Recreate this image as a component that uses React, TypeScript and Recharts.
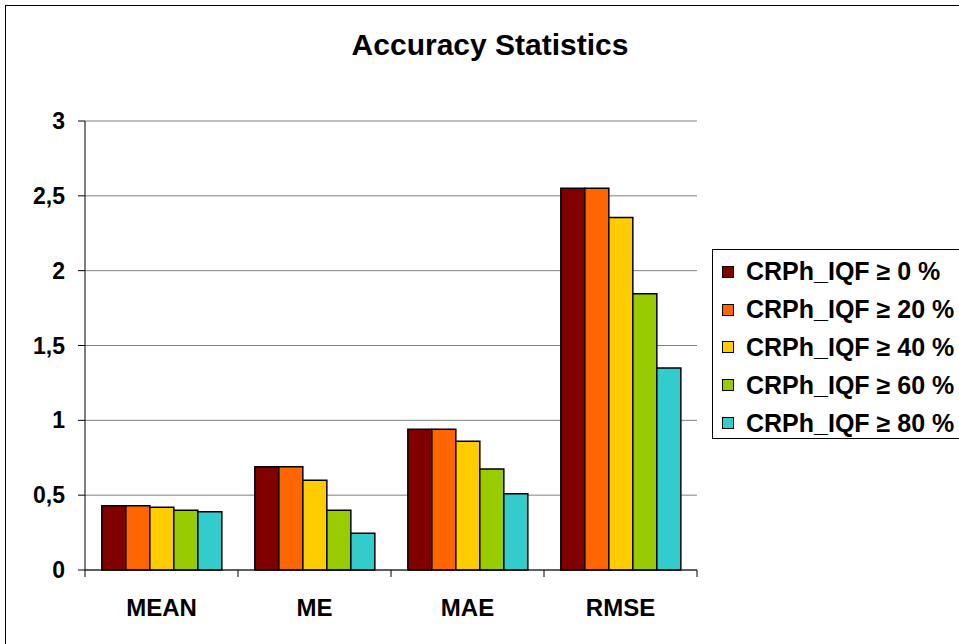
import React from 'react';
import { BarChart, Bar, XAxis, YAxis, CartesianGrid } from 'recharts';

const categories = ['MEAN', 'ME', 'MAE', 'RMSE'];
const iqf0 = [0.43, 0.69, 0.94, 2.55];
const iqf20 = [0.43, 0.69, 0.94, 2.55];
const iqf40 = [0.42, 0.6, 0.86, 2.355];
const iqf60 = [0.4, 0.4, 0.675, 1.846];
const iqf80 = [0.39, 0.245, 0.51, 1.35];
const yTicks = [0, 0.5, 1, 1.5, 2, 2.5, 3];

const seriesNames = ['CRPh_IQF ≥ 0 %', 'CRPh_IQF ≥ 20 %', 'CRPh_IQF ≥ 40 %', 'CRPh_IQF ≥ 60 %', 'CRPh_IQF ≥ 80 %'];
const seriesColors = ['#800000', '#FF6600', '#FFCC00', '#99CC00', '#33CCCC'];
const seriesKeys = ['s0', 's20', 's40', 's60', 's80'];
const seriesValues = [iqf0, iqf20, iqf40, iqf60, iqf80];

const data = categories.map((c, i) => {
  const row: any = { name: c };
  seriesKeys.forEach((k, j) => {
    row[k] = seriesValues[j][i];
  });
  return row;
});

const FONT = '"Liberation Sans", Arial, sans-serif';
const W = 959;
const H = 644;
const M = { top: 121, right: 262, bottom: 44, left: 25 };
const plotW = W - M.left - 60 - M.right;
const band = plotW / categories.length;

const XTick = (props: any) => {
  const { x, y, payload, index } = props;
  const axisY = y - 8;
  return (
    <g>
      <line x1={x - band / 2} y1={axisY} x2={x - band / 2} y2={axisY + 7} stroke="#000" />
      {index === categories.length - 1 && (
        <line x1={x + band / 2} y1={axisY} x2={x + band / 2} y2={axisY + 7} stroke="#000" />
      )}
      <text x={x} y={axisY + 46} textAnchor="middle" fontFamily={FONT} fontWeight="bold" fontSize={24} fill="#000">
        {payload.value}
      </text>
    </g>
  );
};

export default function App() {
  return (
    <div style={{ position: 'absolute', left: 0, top: 0, width: W, height: H, overflow: 'hidden', background: '#fff' }}>
      <div
        style={{
          position: 'absolute',
          left: 5,
          top: 5,
          width: 1000,
          height: 700,
          border: '1px solid #000',
          boxSizing: 'border-box',
        }}
      />
      <div
        style={{
          position: 'absolute',
          left: 0,
          top: 27,
          width: 980,
          textAlign: 'center',
          fontFamily: FONT,
          fontWeight: 'bold',
          fontSize: 30,
          lineHeight: '36px',
          color: '#000',
        }}
      >
        Accuracy Statistics
      </div>
      <div style={{ position: 'absolute', left: 0, top: 0 }}>
        <BarChart width={W} height={H} data={data} margin={M} barCategoryGap="11%" barGap={0}>
          <CartesianGrid vertical={false} stroke="#808080" strokeWidth={1} />
          <XAxis
            dataKey="name"
            axisLine={{ stroke: '#000' }}
            tickLine={false}
            tick={<XTick />}
            height={30}
            interval={0}
          />
          <YAxis
            domain={[0, 3]}
            ticks={yTicks}
            width={60}
            axisLine={{ stroke: '#000' }}
            tickLine={{ stroke: '#000' }}
            tickSize={7}
            tickMargin={13}
            tickFormatter={(v: number) => String(v).replace('.', ',')}
            tick={{ fontFamily: FONT, fontWeight: 'bold', fontSize: 23, fill: '#000' }}
          />
          <YAxis yAxisId="r" orientation="right" domain={[0, 3]} width={0} tick={false} tickLine={false} axisLine={{ stroke: '#808080' }} />
          {seriesKeys.map((k, j) => (
            <Bar
              key={k}
              dataKey={k}
              name={seriesNames[j]}
              fill={seriesColors[j]}
              stroke="#000"
              strokeWidth={1.5}
              isAnimationActive={false}
            />
          ))}
        </BarChart>
      </div>
      <div
        style={{
          position: 'absolute',
          left: 712,
          top: 249,
          width: 260,
          height: 190,
          border: '1px solid #000',
          background: '#fff',
          boxSizing: 'border-box',
          paddingTop: 3,
          paddingLeft: 9,
        }}
      >
        {seriesNames.map((n, i) => (
          <div key={n} style={{ display: 'flex', alignItems: 'center', height: 37.8 }}>
            <span
              style={{
                display: 'inline-block',
                width: 10,
                height: 10,
                background: seriesColors[i],
                border: '1px solid #000',
                marginRight: 12,
              }}
            />
            <span style={{ fontFamily: FONT, fontWeight: 'bold', fontSize: 25, color: '#000', whiteSpace: 'nowrap' }}>
              {n}
            </span>
          </div>
        ))}
      </div>
    </div>
  );
}
